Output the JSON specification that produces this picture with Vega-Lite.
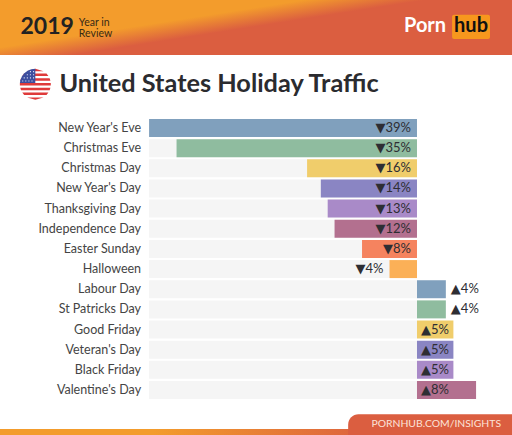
{
  "$schema": "https://vega.github.io/schema/vega-lite/v6.json",
  "padding": 0,
  "spacing": 0,
  "background": "white",
  "config": {"view": {"stroke": null}, "font": "Lato", "text": {"font": "Lato, 'DejaVu Sans'"}},
  "datasets": {
    "chrome": [{"panel": "chrome"}],
    "holidays": [
      {"holiday": "New Year's Eve", "change": -39, "label": "▼39%", "place": "inside", "dir": "down"},
      {"holiday": "Christmas Eve", "change": -35, "label": "▼35%", "place": "inside", "dir": "down"},
      {"holiday": "Christmas Day", "change": -16, "label": "▼16%", "place": "inside", "dir": "down"},
      {"holiday": "New Year's Day", "change": -14, "label": "▼14%", "place": "inside", "dir": "down"},
      {"holiday": "Thanksgiving Day", "change": -13, "label": "▼13%", "place": "inside", "dir": "down"},
      {"holiday": "Independence Day", "change": -12, "label": "▼12%", "place": "inside", "dir": "down"},
      {"holiday": "Easter Sunday", "change": -8, "label": "▼8%", "place": "inside", "dir": "down"},
      {"holiday": "Halloween", "change": -4, "label": "▼4%", "place": "outside", "dir": "down"},
      {"holiday": "Labour Day", "change": 4.2, "label": "▲4%", "place": "outside", "dir": "up"},
      {"holiday": "St Patricks Day", "change": 4.2, "label": "▲4%", "place": "outside", "dir": "up"},
      {"holiday": "Good Friday", "change": 5.3, "label": "▲5%", "place": "inside", "dir": "up"},
      {"holiday": "Veteran's Day", "change": 5.3, "label": "▲5%", "place": "inside", "dir": "up"},
      {"holiday": "Black Friday", "change": 5.3, "label": "▲5%", "place": "inside", "dir": "up"},
      {"holiday": "Valentine's Day", "change": 8.6, "label": "▲8%", "place": "inside", "dir": "up"}
    ]
  },
  "vconcat": [
    {
      "width": 512,
      "height": 55,
      "data": {"name": "chrome"},
      "encoding": {
        "x": {"datum": 0, "type": "quantitative", "scale": {"domain": [0, 100], "nice": false}, "axis": null},
        "y": {"datum": 50, "type": "quantitative", "scale": {"domain": [100, 0], "nice": false}, "axis": null}
      },
      "layer": [
        {
          "mark": {"type": "rect", "color": {"gradient": "linear", "x1": 0.1, "y1": 0, "x2": 0.9, "y2": 0.55, "stops": [{"offset": 0.42, "color": "#f39c2c"}, {"offset": 0.62, "color": "#db5e40"}]}},
          "encoding": {"x2": {"datum": 100}, "y": {"datum": 0, "type": "quantitative"}, "y2": {"datum": 100}}
        },
        {
          "mark": {"type": "text", "text": "2019", "align": "left", "baseline": "middle", "fontSize": 23, "fontWeight": "bold", "color": "#222222"},
          "encoding": {"x": {"datum": 4, "type": "quantitative"}, "y": {"datum": 49, "type": "quantitative"}}
        },
        {
          "mark": {"type": "text", "text": ["Year in", "Review"], "align": "left", "baseline": "middle", "fontSize": 10.5, "lineHeight": 10.5, "color": "#3a2a14"},
          "encoding": {"x": {"datum": 15.4, "type": "quantitative"}, "y": {"datum": 42, "type": "quantitative"}}
        },
        {
          "mark": {"type": "text", "text": "Porn", "align": "left", "baseline": "middle", "fontSize": 20, "fontWeight": "bold", "color": "white"},
          "encoding": {"x": {"datum": 78.9, "type": "quantitative"}, "y": {"datum": 47, "type": "quantitative"}}
        },
        {
          "mark": {"type": "rect", "color": "#f7971d", "cornerRadius": 2},
          "encoding": {"x": {"datum": 88.3, "type": "quantitative"}, "x2": {"datum": 95.7}, "y": {"datum": 27, "type": "quantitative"}, "y2": {"datum": 71}}
        },
        {
          "mark": {"type": "text", "text": "hub", "align": "center", "baseline": "middle", "fontSize": 20, "fontWeight": "bold", "color": "#111111"},
          "encoding": {"x": {"datum": 92, "type": "quantitative"}, "y": {"datum": 48, "type": "quantitative"}}
        }
      ]
    },
    {
      "width": 512,
      "height": 61,
      "data": {"name": "chrome"},
      "encoding": {
        "x": {"datum": 6.9, "type": "quantitative", "scale": {"domain": [0, 100], "nice": false}, "axis": null},
        "y": {"datum": 48, "type": "quantitative", "scale": {"domain": [100, 0], "nice": false}, "axis": null}
      },
      "layer": [
        {"mark": {"type": "point", "shape": "circle", "size": 961, "filled": true, "color": "#ffffff", "opacity": 1}},
        {"mark": {"type": "point", "size": 961, "filled": true, "color": "#df3a3a", "opacity": 1, "shape": "M0,-1L.533,-.846L-.533,-.846ZM-.722,-.692L.722,-.692L.843,-.538L-.843,-.538ZM-.923,-.385L.923,-.385L.973,-.231L-.973,-.231ZM-.997,-.077L.997,-.077L.997,.077L-.997,.077ZM-.973,.231L.973,.231L.923,.385L-.923,.385ZM-.843,.538L.843,.538L.722,.692L-.722,.692ZM-.533,.846L.533,.846L0,1Z"}},
        {"mark": {"type": "point", "size": 961, "filled": true, "color": "#3d4f9f", "opacity": 1, "shape": "M0,-1L0,-.077L-.997,-.077L-.966,-.26L-.866,-.5L-.707,-.707L-.5,-.866L-.26,-.966Z"}},
        {"mark": {"type": "point", "size": 961, "filled": true, "color": "#d8dcf0", "opacity": 1, "shape": "M-.35,-.85h.07v.07h-.07zM-.15,-.85h.07v.07h-.07zM-.55,-.65h.07v.07h-.07zM-.35,-.65h.07v.07h-.07zM-.15,-.65h.07v.07h-.07zM-.75,-.45h.07v.07h-.07zM-.55,-.45h.07v.07h-.07zM-.35,-.45h.07v.07h-.07zM-.15,-.45h.07v.07h-.07zM-.85,-.25h.07v.07h-.07zM-.65,-.25h.07v.07h-.07zM-.45,-.25h.07v.07h-.07zM-.25,-.25h.07v.07h-.07z"}},
        {
          "mark": {"type": "text", "text": "United States Holiday Traffic", "align": "left", "baseline": "middle", "fontSize": 25.3, "fontWeight": "bold", "color": "#2b2b2f"},
          "encoding": {"x": {"datum": 11.6, "type": "quantitative"}, "y": {"datum": 48, "type": "quantitative"}}
        }
      ]
    },
    {
      "width": 512,
      "height": 285,
      "data": {"name": "holidays"},
      "encoding": {
        "y": {
          "field": "holiday",
          "type": "nominal",
          "sort": null,
          "title": null,
          "scale": {"paddingInner": 0.107, "paddingOuter": 0.124, "align": 0.6},
          "axis": null
        }
      },
      "layer": [
        {
          "mark": {"type": "bar", "color": "#f5f5f5"},
          "encoding": {
            "x": {"datum": -39, "type": "quantitative", "scale": {"domain": [-60.7, 13.83], "nice": false, "zero": false}, "axis": null},
            "x2": {"datum": 0}
          }
        },
        {
          "mark": {"type": "bar"},
          "encoding": {
            "x": {"field": "change", "type": "quantitative", "stack": null, "axis": null},
            "x2": {"datum": 0},
            "color": {
              "field": "holiday",
              "type": "nominal",
              "sort": null,
              "legend": null,
              "scale": {"range": ["#80a0bd", "#8fbc9f", "#f0cd6b", "#8a85c3", "#a98ac8", "#b3708f", "#f5835f", "#fbb057", "#80a0bd", "#8fbc9f", "#f0cd6b", "#8a85c3", "#a98ac8", "#b3708f"]}
            }
          }
        },
        {
          "mark": {"type": "text", "align": "right", "baseline": "middle", "dx": -8, "fontSize": 12.5, "color": "#444444"},
          "encoding": {"x": {"datum": -39, "type": "quantitative", "axis": null}, "text": {"field": "holiday"}}
        },
        {
          "transform": [{"filter": "datum.place === 'inside' && datum.dir === 'down'"}],
          "mark": {"type": "text", "align": "right", "baseline": "middle", "dx": -6, "fontSize": 13, "color": "#2e2e33"},
          "encoding": {"x": {"datum": 0, "type": "quantitative", "axis": null}, "text": {"field": "label"}}
        },
        {
          "transform": [{"filter": "datum.place === 'outside' && datum.dir === 'down'"}],
          "mark": {"type": "text", "align": "right", "baseline": "middle", "dx": -6, "fontSize": 13, "color": "#2e2e33"},
          "encoding": {"x": {"field": "change", "type": "quantitative", "axis": null}, "text": {"field": "label"}}
        },
        {
          "transform": [{"filter": "datum.place === 'inside' && datum.dir === 'up'"}],
          "mark": {"type": "text", "align": "left", "baseline": "middle", "dx": 4, "fontSize": 13, "color": "#2e2e33"},
          "encoding": {"x": {"datum": 0, "type": "quantitative", "axis": null}, "text": {"field": "label"}}
        },
        {
          "transform": [{"filter": "datum.place === 'outside' && datum.dir === 'up'"}],
          "mark": {"type": "text", "align": "left", "baseline": "middle", "dx": 5, "fontSize": 13, "color": "#2e2e33"},
          "encoding": {"x": {"field": "change", "type": "quantitative", "axis": null}, "text": {"field": "label"}}
        },
        {
          "mark": {"type": "rule", "color": "#333333", "strokeWidth": 2},
          "encoding": {"x": {"datum": 0, "type": "quantitative", "axis": null}}
        }
      ]
    },
    {
      "width": 512,
      "height": 34,
      "data": {"name": "chrome"},
      "encoding": {
        "x": {"datum": 0, "type": "quantitative", "scale": {"domain": [0, 100], "nice": false}, "axis": null},
        "y": {"datum": 0, "type": "quantitative", "scale": {"domain": [100, 0], "nice": false}, "axis": null}
      },
      "layer": [
        {
          "mark": {"type": "rect", "color": {"gradient": "linear", "x1": 0, "y1": 0, "x2": 1, "y2": 0, "stops": [{"offset": 0.3, "color": "#f39c2c"}, {"offset": 0.75, "color": "#db5e40"}]}},
          "encoding": {"x2": {"datum": 100}, "y": {"datum": 82, "type": "quantitative"}, "y2": {"datum": 100}}
        },
        {
          "mark": {"type": "rect", "color": "#db5e40", "cornerRadiusTopLeft": 14},
          "encoding": {"x": {"datum": 68, "type": "quantitative"}, "x2": {"datum": 100}, "y": {"datum": 39, "type": "quantitative"}, "y2": {"datum": 100}}
        },
        {
          "mark": {"type": "text", "text": "PORNHUB.COM/INSIGHTS", "align": "center", "baseline": "middle", "fontSize": 10.4, "color": "#fbe3d8"},
          "encoding": {"x": {"datum": 85.2, "type": "quantitative"}, "y": {"datum": 68, "type": "quantitative"}}
        }
      ]
    }
  ]
}
